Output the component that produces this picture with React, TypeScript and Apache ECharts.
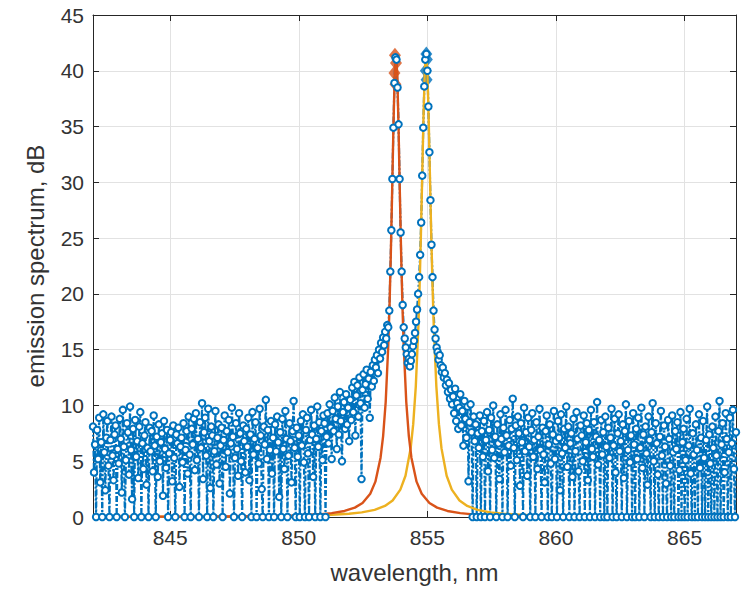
import { useEffect, useRef } from "react";
import * as echarts from "echarts";

// ---- axis ranges / ticks ----
const X_MIN = 842;
const X_MAX = 867;
const Y_MIN = 0;
const Y_MAX = 45;
const Y_INTERVAL = 5;

// ---- measured spectrum (blue), sampled every STEP nm, one row = 1 nm ----
const STEP = 0.04;
const BLUE_842_START = 842;
const BLUE_842 = [
  8.1, 4.0, 6.5, 0, 7.8, 5.2, 8.9, 3.1, 6.7, 0, 9.2, 5.8, 2.4, 7.1, 8.6, 4.6, 0, 6.9, 9.0, 5.5, 3.3, 7.4, 8.2, 0, 6.1,
  4.8, 8.8, 7.0, 2.2, 9.6, 6.3, 0, 5.1, 8.4, 7.6, 3.8, 9.9, 6.0, 1.6, 7.9, 0, 8.7, 5.4, 6.8, 3.5, 8.1, 9.4, 0, 6.6, 4.3,
  7.3, 8.5, 2.9, 6.2, 0, 8.0, 5.9, 7.7, 4.1, 9.1, 6.4, 0, 7.2, 3.6, 8.3, 5.0, 6.7, 7.5, 1.9, 8.6, 6.1, 4.4, 7.8, 0, 5.7,
  6.9, 7.6, 3.2, 8.2, 5.3, 0, 7.4, 6.6, 8.0, 2.7, 6.3, 7.1, 4.9, 8.4, 0, 6.0, 7.7, 3.9, 9.0, 5.6, 0, 7.9, 6.5, 8.8, 4.2,
  9.3, 5.1, 7.0, 0, 8.5, 6.2, 10.2, 3.4, 7.6, 8.9, 5.5, 0, 9.7, 6.8, 2.6, 8.1, 7.3, 0, 5.9, 9.5, 4.7, 7.1, 8.3, 3.0, 6.4,
];
const BLUE_847_START = 847;
const BLUE_847 = [
  8.0, 0, 6.9, 9.1, 4.5, 7.7, 5.8, 8.7, 2.1, 6.6, 9.8, 7.2, 0, 5.3, 8.4, 6.1, 3.7, 9.3, 7.5, 5.0, 0, 8.2, 6.8, 4.0, 7.9,
  6.3, 8.9, 3.3, 7.4, 0, 9.4, 5.6, 7.0, 8.5, 0, 6.2, 4.8, 9.7, 7.3, 2.5, 0, 8.1, 6.5, 10.5, 5.2, 7.8, 0, 6.0, 8.6, 3.9,
  7.1, 0, 8.3, 5.9, 9.0, 6.7, 1.8, 7.6, 0, 8.8, 6.1, 4.3, 9.5, 7.0, 0, 5.5, 8.4, 6.8, 3.1, 7.7, 10.4, 6.2, 0, 8.0, 5.4,
  7.3, 0, 8.6, 6.4, 9.2, 4.9, 0, 7.8, 8.9, 5.7, 0, 6.9, 9.6, 7.4, 3.6, 8.2, 0, 7.0, 9.9, 6.3, 8.5, 0, 7.7, 5.1, 9.1,
  8.4, 0, 7.2, 9.3, 6.6, 10.1, 8.0, 5.2, 9.5, 7.7, 10.7, 8.8, 6.1, 9.9, 7.4, 11.2, 8.6, 5.0, 9.4, 10.3, 7.9, 11.0, 8.3, 9.8, 6.8,
];
const BLUE_852_START = 852;
const BLUE_852 = [
  10.5, 8.7, 11.6, 9.4, 12.1, 7.3, 10.9, 11.8, 9.0, 12.5, 10.2, 3.4, 11.4, 12.8, 9.8, 11.9, 13.2, 10.6, 12.4, 8.9, 13.0, 11.7, 13.6, 12.2, 14.1,
  13.4, 14.5, 12.9, 15.0, 14.2, 15.6, 14.8, 16.1, 15.4, 16.6, 16.0, 17.2, 17.0, 18.5, 22.0, 25.7, 30.3, 34.9, 38.9, 41.2, 41.0, 38.5, 35.2, 30.3, 25.5,
  22.0, 19.0, 17.0, 16.0, 15.2, 14.6, 13.8, 14.2, 13.5, 14.0, 14.6, 15.3, 15.8, 16.5, 17.5, 18.6, 20.0, 21.5, 23.5, 26.4, 30.6, 34.9, 38.6, 41.0, 41.5,
  40.0, 36.8, 32.7, 28.4, 24.4, 21.5, 18.5, 16.8, 16.0, 15.2, 14.8, 14.1, 14.5, 13.6, 13.0, 13.4, 12.5, 12.9, 11.8, 12.3, 11.2, 12.0, 10.6, 11.4, 10.1,
  10.8, 9.3, 11.5, 8.6, 10.2, 7.9, 9.8, 11.0, 8.2, 9.5, 6.4, 10.4, 8.8, 7.1, 9.9, 3.2, 8.5, 10.1, 7.6, 0, 9.0, 6.8, 8.3, 0, 7.5,
];
const BLUE_857_START = 857;
const BLUE_857 = [
  6.2, 9.1, 0, 7.7, 5.4, 8.6, 0, 6.9, 9.4, 4.1, 7.8, 0, 8.9, 6.0, 10.0, 5.3, 7.2, 0, 8.3, 6.6, 3.4, 9.2, 7.0, 0, 8.0,
  5.8, 9.6, 7.3, 0, 6.4, 8.7, 4.6, 7.9, 10.6, 6.2, 0, 8.2, 5.1, 9.0, 7.5, 2.8, 8.4, 6.7, 0, 9.8, 5.9, 7.6, 3.7, 8.9, 6.3,
  0, 7.8, 9.3, 5.4, 6.9, 0, 8.5, 4.3, 7.2, 9.7, 6.0, 0, 8.0, 5.6, 3.1, 7.7, 9.1, 0, 6.5, 8.3, 4.8, 0, 7.4, 9.5, 5.2,
  6.8, 0, 8.6, 7.1, 2.4, 9.2, 5.7, 0, 7.9, 6.2, 9.9, 4.5, 8.1, 0, 6.6, 7.5, 3.6, 8.8, 0, 5.9, 9.4, 7.0, 4.1, 0, 8.2,
  7.3, 5.0, 9.1, 0, 6.7, 8.4, 3.3, 7.8, 0, 9.6, 6.1, 5.4, 8.5, 0, 7.2, 10.3, 4.7, 6.9, 0, 8.7, 5.6, 7.6, 0, 9.0, 6.3,
];
const BLUE_862_START = 862;
const BLUE_862 = [
  0, 8.0, 5.3, 7.1, 9.7, 0, 6.4, 8.8, 4.0, 0, 7.5, 9.2, 5.9, 6.8, 0, 8.3, 3.5, 7.7, 10.1, 0, 6.0, 8.6, 4.9, 7.3, 0,
  9.3, 6.5, 0, 7.9, 5.2, 8.9, 0, 6.2, 9.8, 4.4, 7.4, 0, 8.1, 5.7, 2.9, 9.0, 6.9, 0, 7.6, 10.2, 5.0, 0, 8.4, 6.6, 3.8,
  0, 7.2, 9.5, 5.5, 0, 8.2, 6.3, 3.0, 0, 8.7, 7.0, 4.6, 0, 9.1, 5.8, 0, 7.7, 6.1, 8.5, 0, 4.2, 9.4, 0, 6.7, 7.9,
  0, 5.1, 8.8, 0, 6.4, 9.7, 3.9, 0, 7.5, 5.6, 0, 8.3, 6.0, 0, 9.2, 4.4, 7.1, 0, 8.6, 5.3, 0, 6.9, 9.9, 0, 7.4,
  4.8, 0, 8.1, 6.2, 0, 9.0, 5.5, 0, 7.7, 10.4, 0, 6.5, 8.4, 0, 4.0, 9.3, 7.0, 0, 5.8, 8.9, 0, 6.6, 9.6, 4.3, 0,
  7.6,
];

// ---- fitted curves ----
const ORANGE_X = [
  842, 844.78, 846.78, 848.78, 849.78, 850.78, 851.28, 851.78, 852.18, 852.48, 852.78, 852.98, 853.18, 853.28, 853.38,
  853.48, 853.53, 853.58, 853.63, 853.68, 853.73, 853.78, 853.83, 853.88, 853.93, 853.98, 854.03, 854.08, 854.18,
  854.28, 854.38, 854.58, 854.78, 855.08, 855.38, 855.78, 856.28, 856.78, 857.78, 858.78, 860.78, 862.78, 867,
];
const ORANGE_Y = [
  0.02, 0.03, 0.04, 0.09, 0.14, 0.24, 0.35, 0.54, 0.84, 1.26, 2.09, 3.17, 5.32, 7.25, 10.31,
  15.36, 19.02, 23.63, 29.11, 34.9, 39.63, 41.5, 39.63, 34.9, 29.11, 23.63, 19.02, 15.36, 10.31,
  7.25, 5.32, 3.17, 2.09, 1.26, 0.84, 0.54, 0.35, 0.24, 0.14, 0.09, 0.04, 0.03, 0.01,
];
const YELLOW_X = [
  842, 845.95, 847.95, 849.95, 850.95, 851.95, 852.45, 852.95, 853.35, 853.65, 853.95, 854.15, 854.35, 854.45, 854.55,
  854.65, 854.7, 854.75, 854.8, 854.85, 854.9, 854.95, 855.0, 855.05, 855.1, 855.15, 855.2, 855.25, 855.35,
  855.45, 855.55, 855.75, 855.95, 856.25, 856.55, 856.95, 857.45, 857.95, 858.95, 859.95, 861.95, 863.95, 867,
];
const YELLOW_Y = [
  0.02, 0.03, 0.05, 0.1, 0.16, 0.29, 0.41, 0.64, 0.99, 1.48, 2.45, 3.7, 6.15, 8.32, 11.69,
  17.05, 20.8, 25.37, 30.59, 35.86, 40.0, 41.6, 40.0, 35.86, 30.59, 25.37, 20.8, 17.05, 11.69,
  8.32, 6.15, 3.7, 2.45, 1.48, 0.99, 0.64, 0.41, 0.29, 0.16, 0.1, 0.05, 0.03, 0.02,
];

// ---- detected peak markers ----
const ORANGE_PEAK_X = [853.74, 853.78, 853.72, 853.76];
const ORANGE_PEAK_Y = [41.4, 40.7, 39.8, 38.8];
const BLUE_PEAK_X = [854.96, 854.98, 854.94, 854.97];
const BLUE_PEAK_Y = [41.5, 41.0, 40.0, 39.2];

const X_NAME = "wavelength, nm";
const Y_NAME = "emission spectrum, dB";

const BLUE = "#0072BD";
const ORANGE = "#D95319";
const YELLOW = "#EDB120";
const AXIS = "#262626";
const TEXT = "#333333";
const GRID = "#e2e2e2";
const FONT = "Liberation Sans, Arial, Helvetica, sans-serif";

function toPairs(start: number, vals: number[]) {
  return vals.map((v, i) => [Math.round((start + i * STEP) * 100) / 100, v]);
}
function zip(xs: number[], ys: number[]) {
  return xs.map((x, i) => [x, ys[i]]);
}

export default function App() {
  const ref = useRef<HTMLDivElement>(null);
  useEffect(() => {
    if (!ref.current) return;
    const chart = echarts.init(ref.current, null, { renderer: "svg" });
    const blueData = [
      ...toPairs(BLUE_842_START, BLUE_842),
      ...toPairs(BLUE_847_START, BLUE_847),
      ...toPairs(BLUE_852_START, BLUE_852),
      ...toPairs(BLUE_857_START, BLUE_857),
      ...toPairs(BLUE_862_START, BLUE_862),
    ];
    const axisLine = { show: true, onZero: false, lineStyle: { color: AXIS, width: 1 } };
    const tick = { show: true, inside: true, length: 6, lineStyle: { color: AXIS, width: 1 } };
    chart.setOption({
      animation: false,
      backgroundColor: "#ffffff",
      textStyle: { fontFamily: FONT },
      grid: { left: 93, right: 11, top: 15, bottom: 75, containLabel: false },
      xAxis: [
        {
          type: "value",
          min: X_MIN,
          max: X_MAX,
          splitNumber: 5,
          axisLine,
          axisTick: tick,
          axisLabel: {
            color: TEXT,
            fontSize: 21,
            fontFamily: FONT,
            margin: 10,
            formatter: (v: number) => (v % 5 === 0 ? String(v) : ""),
          },
          splitLine: { show: true, lineStyle: { color: GRID, width: 1 } },
          name: X_NAME,
          nameLocation: "middle",
          nameGap: 43,
          nameTextStyle: { color: TEXT, fontSize: 24, fontFamily: FONT },
        },
        {
          type: "value",
          position: "top",
          min: X_MIN,
          max: X_MAX,
          splitNumber: 5,
          axisLine,
          axisTick: tick,
          axisLabel: { show: false },
          splitLine: { show: false },
        },
      ],
      yAxis: [
        {
          type: "value",
          min: Y_MIN,
          max: Y_MAX,
          interval: Y_INTERVAL,
          axisLine,
          axisTick: tick,
          axisLabel: { color: TEXT, fontSize: 21, fontFamily: FONT, margin: 9 },
          splitLine: { show: true, lineStyle: { color: GRID, width: 1 } },
          name: Y_NAME,
          nameLocation: "middle",
          nameGap: 46,
          nameTextStyle: { color: TEXT, fontSize: 24, fontFamily: FONT },
        },
        {
          type: "value",
          position: "right",
          min: Y_MIN,
          max: Y_MAX,
          interval: Y_INTERVAL,
          axisLine,
          axisTick: tick,
          axisLabel: { show: false },
          splitLine: { show: false },
        },
      ],
      series: [
        {
          type: "line",
          data: blueData,
          xAxisIndex: 0,
          yAxisIndex: 0,
          symbol: "emptyCircle",
          symbolSize: 6.5,
          showAllSymbol: true,
          lineStyle: { color: BLUE, width: 2.2, type: [6, 2, 2, 2] },
          itemStyle: { color: BLUE, borderColor: BLUE, borderWidth: 2.2 },
          emphasis: { disabled: true },
          silent: true,
        },
        {
          type: "scatter",
          data: zip(ORANGE_PEAK_X, ORANGE_PEAK_Y),
          symbol: "diamond",
          symbolSize: [12, 15],
          itemStyle: { color: ORANGE },
          silent: true,
        },
        {
          type: "scatter",
          data: zip(BLUE_PEAK_X, BLUE_PEAK_Y),
          symbol: "diamond",
          symbolSize: [12, 15],
          itemStyle: { color: BLUE },
          silent: true,
        },
        {
          type: "line",
          data: zip(YELLOW_X, YELLOW_Y),
          symbol: "none",
          lineStyle: { color: YELLOW, width: 2.4 },
          silent: true,
        },
        {
          type: "line",
          data: zip(ORANGE_X, ORANGE_Y),
          symbol: "none",
          lineStyle: { color: ORANGE, width: 2.4 },
          silent: true,
        },
      ],
    });
    return () => chart.dispose();
  }, []);
  return (
    <div
      ref={ref}
      style={{ position: "fixed", left: 0, top: 0, width: 747, height: 592, background: "#fff" }}
    />
  );
}
